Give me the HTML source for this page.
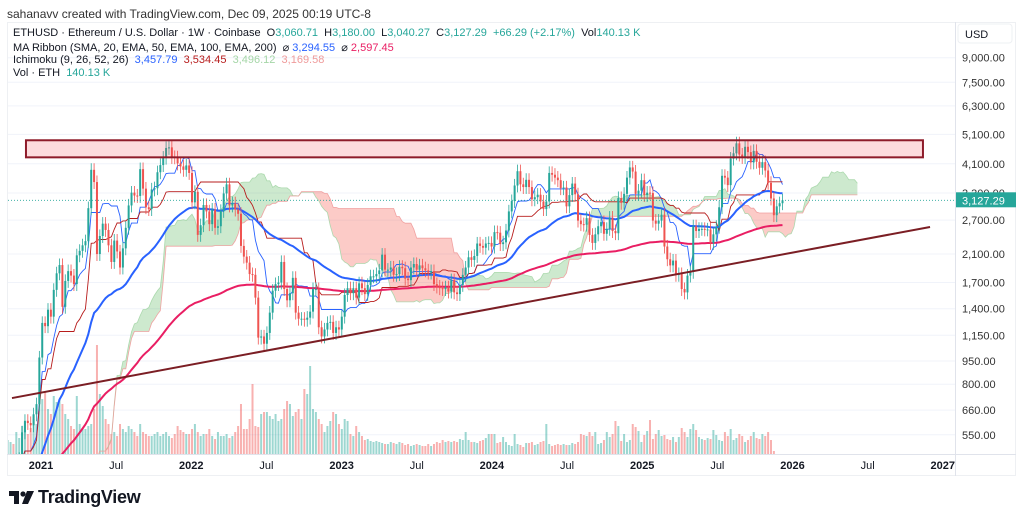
<!DOCTYPE html>
<html><head><meta charset="utf-8">
<style>
html,body{margin:0;padding:0;background:#fff;}
body{width:1024px;height:521px;overflow:hidden;position:relative;font-family:"Liberation Sans",sans-serif;color:#131722;}
.t{position:absolute;white-space:nowrap;}
</style></head>
<body>
<div class="t" style="left:7px;top:7px;font-size:12px;color:#333;">sahanavv created with TradingView.com, Dec 09, 2025 00:19 UTC-8</div>
<svg id="chart" width="1024" height="521" style="position:absolute;left:0;top:0" xmlns="http://www.w3.org/2000/svg">
  <defs><clipPath id="plot"><rect x="8" y="23" width="947" height="431"/></clipPath></defs>
  <rect x="7.5" y="22.5" width="1008" height="453" fill="none" stroke="#eef0f3"/>
  <line x1="955.5" y1="22" x2="955.5" y2="476" stroke="#e0e3eb"/>
  <line x1="7" y1="454.5" x2="1016" y2="454.5" stroke="#e0e3eb"/>
  <rect x="958" y="24" width="54" height="19" rx="3" fill="#fff" stroke="#eef0f3"/>
  <text x="965" y="38" font-size="11" fill="#131722" font-family="Liberation Sans, sans-serif">USD</text>
  <g id="grid"></g>
  <g clip-path="url(#plot)"><g id="vol"></g><g id="cloud"></g><g id="lines"></g><g id="candles"></g><g id="draw"></g></g>
  <g id="axes"></g>
</svg>
<div class="t" style="left:13px;top:27px;font-size:11px;">ETHUSD · Ethereum / U.S. Dollar · 1W · Coinbase&nbsp; O<span style="color:#26a69a">3,060.71</span>&nbsp; H<span style="color:#26a69a">3,180.00</span>&nbsp; L<span style="color:#26a69a">3,040.27</span>&nbsp; C<span style="color:#26a69a">3,127.29&nbsp; +66.29 (+2.17%)</span>&nbsp; Vol<span style="color:#26a69a">140.13 K</span></div>
<div class="t" style="left:13px;top:41px;font-size:11px;">MA Ribbon (SMA, 20, EMA, 50, EMA, 100, EMA, 200)&nbsp; ⌀ <span style="color:#2962ff">3,294.55</span>&nbsp; ⌀ <span style="color:#e91e63">2,597.45</span></div>
<div class="t" style="left:13px;top:54px;font-size:11px;">Ichimoku (9, 26, 52, 26)&nbsp; <span style="color:#2962ff">3,457.79</span>&nbsp; <span style="color:#b71c1c">3,534.45</span>&nbsp; <span style="color:#a5d6a7">3,496.12</span>&nbsp; <span style="color:#ef9a9a">3,169.58</span></div>
<div class="t" style="left:13px;top:67px;font-size:11px;">Vol · ETH&nbsp; <span style="color:#26a69a">140.13 K</span></div>
<svg width="26" height="14" style="position:absolute;left:9px;top:491px" viewBox="0 0 26 14">
  <path d="M0 0H10V13H5V5H0Z" fill="#131722"/><circle cx="14" cy="3" r="2.6" fill="#131722"/><path d="M18 0H25L19 13H13Z" fill="#131722"/>
</svg>
<div class="t" style="left:38px;top:487px;font-size:18px;font-weight:bold;letter-spacing:-0.3px;">TradingView</div>
<script>
const closes2020=[370,405,385,455,460,560,610,600,590,640,690];
const closes2021=[975,1260,1230,1390,1320,1610,1820,1935,1420,1720,1850,1790,1680,2080,2150,2240,2310,2950,3920,3580,2100,2400,2630,2510,2240,1980,2320,2140,1900,2190,2550,3010,3310,3240,3230,3940,3410,2970,2930,3390,3420,3850,4060,4290,4610,4630,4310,4300,4110,4020,3920,4050];
const closes2022=[3830,3080,3330,2420,2600,3020,2880,2620,2920,2550,2580,2890,3290,3520,3010,3060,2920,2830,2230,2060,1970,1810,1800,1520,1130,1140,1080,1170,1360,1600,1680,1700,1980,1620,1490,1570,1760,1360,1300,1300,1290,1310,1370,1620,1620,1220,1140,1200,1260,1270,1170,1220];
const closes2023=[1200,1320,1550,1630,1570,1630,1520,1690,1630,1560,1670,1780,1780,1810,1860,2090,1870,1870,1900,1800,1810,1910,1890,1750,1730,1900,1950,1870,1930,1890,1860,1830,1850,1680,1650,1630,1620,1640,1590,1730,1580,1560,1670,1800,1900,2050,2010,2070,2270,2230,2200,2270,2280];
const closes2024=[2220,2470,2460,2260,2290,2500,2880,3110,3490,3880,3520,3450,3640,3450,3150,3200,3260,3100,2930,3100,3830,3780,3700,3630,3420,3440,2990,3250,3540,3270,2690,2620,2610,2740,2420,2280,2430,2580,2660,2440,2530,2750,2490,2450,3180,3070,3280,3700,3990,3870,3280,3360];
const closes2025=[3630,3250,3310,3300,2690,2630,2690,2810,2220,2020,1930,2000,1800,1810,1620,1580,1790,1840,2580,2490,2530,2530,2520,2520,2280,2430,2570,2970,3750,3700,3500,4260,4430,4770,4390,4310,4650,4470,4140,4510,4160,3980,4150,3900,3560,3170,2800,2990,3060,3127.29];
const volumes=[14,12,10,22,16,28,32,20,26,35,30,
60,55,62,45,40,58,52,55,50,40,35,28,25,58,30,26,25,28,30,45,109,60,48,35,30,20,22,18,30,25,22,28,25,22,18,30,22,20,18,18,20,22,18,20,22,18,16,20,28,24,22,20,
20,25,30,22,18,20,20,25,18,15,22,18,18,20,16,18,22,28,50,25,25,35,70,28,27,40,42,42,38,35,40,33,35,45,53,50,38,42,45,35,65,60,88,45,42,35,30,22,28,
33,42,40,30,25,35,33,20,18,28,22,18,14,15,13,12,13,12,11,10,10,12,11,10,12,11,9,10,8,9,10,9,8,8,10,8,10,12,11,14,12,13,12,13,12,15,14,22,14,12,12,11,13,
14,16,20,20,20,11,12,17,12,9,8,20,10,9,7,11,11,12,9,10,12,13,30,10,8,9,10,9,10,9,9,11,10,12,20,19,18,22,18,22,10,11,14,22,17,20,33,28,13,20,12,14,
30,27,23,12,19,23,34,15,20,24,18,19,15,14,17,12,17,26,22,17,25,30,24,17,15,14,16,15,24,19,14,13,22,18,25,14,16,20,18,12,14,18,22,16,15,20,18,22,14,3];
const priceTicks=[9000,7500,6300,5100,4100,3300,2700,2100,1700,1400,1150,950,800,660,550];
const timeTicks=[["2021",2021.0,true],["Jul",2021.5,false],["2022",2022.0,true],["Jul",2022.5,false],["2023",2023.0,true],["Jul",2023.5,false],["2024",2024.0,true],["Jul",2024.5,false],["2025",2025.0,true],["Jul",2025.5,false],["2026",2026.0,true],["Jul",2026.5,false],["2027",2027.0,true]];
const resistanceZone=[4300,4880,2020.9,2026.868];
const trendLine=[[2020.807,722],[2026.915,2566]];
const lastPrice=3127.29;

const NS="http://www.w3.org/2000/svg";
const closes=[].concat(closes2020,closes2021,closes2022,closes2023,closes2024,closes2025);
const firstDayOffset=-81;
function yearOf(i){return 2021+(firstDayOffset+i*7)/365.25;}
function xs(yr){return 41+(yr-2021)*150.3;}
function xi(i){return xs(yearOf(i));}
function ys(p){return 57.7+(Math.log(9000)-Math.log(p))*134.9;}
function mk(tag,attrs,parent){const e=document.createElementNS(NS,tag);for(const k in attrs)e.setAttribute(k,attrs[k]);parent.appendChild(e);return e;}
const G=id=>document.getElementById(id);

priceTicks.forEach(p=>{
  const l=mk('line',{x1:8,x2:955,y1:ys(p),y2:ys(p),stroke:'#f0f3fa'},G('grid'));
  
  
  const t=mk('text',{x:962,y:ys(p)+4,'font-size':11,fill:'#333','font-family':'Liberation Sans, sans-serif'},G('axes'));
  t.textContent=p.toLocaleString('en-US',{minimumFractionDigits:2});
  
  
});
timeTicks.forEach(tk=>{
  const t=mk('text',{x:xs(tk[1]),y:469,'font-size':11,'text-anchor':'middle',fill:'#131722','font-weight':tk[2]?'bold':'normal','font-family':'Liberation Sans, sans-serif'},G('axes'));
  t.textContent=tk[0];
  
  
});

const opens=closes.map((c,i)=>i?closes[i-1]:c*0.95);
const highs=closes.map((c,i)=>Math.max(c,opens[i])*1.05);
const lows=closes.map((c,i)=>Math.min(c,opens[i])*0.95);

const n=Math.min(volumes.length,closes.length);
for(let i=0;i<n;i++){
  const up=closes[i]>=opens[i];
  const h=volumes[i];
  const r=mk('rect',{x:xi(i)-1,y:454-h,width:2,height:h,fill:up?'rgba(38,166,154,0.45)':'rgba(239,83,80,0.45)'},G('vol'));
  
  
}

function ema(arr,len){const a=2/(len+1);let v=arr[0];return arr.map(c=>(v=v+a*(c-v)));}
function hl(i,len){let h=-1e9,l=1e9;for(let k=Math.max(0,i-len+1);k<=i;k++){h=Math.max(h,highs[k]);l=Math.min(l,lows[k]);}return (h+l)/2;}
const ema50=ema(closes,50), ema200=ema(closes,200);
const tenkan=closes.map((c,i)=>hl(i,9)), kijun=closes.map((c,i)=>hl(i,26));
const spanA=tenkan.map((t,i)=>(t+kijun[i])/2), spanB=closes.map((c,i)=>hl(i,52));

const sh=26;
let runStart=0;
function flushRun(s,e){
  if(e<=s) return;
  const green=spanA[s]>=spanB[s];
  const pts=[];
  for(let k=s;k<=e;k++) pts.push(xi(k+sh).toFixed(1)+','+ys(spanA[k]).toFixed(1));
  for(let k=e;k>=s;k--) pts.push(xi(k+sh).toFixed(1)+','+ys(spanB[k]).toFixed(1));
  const p=mk('polygon',{points:pts.join(' '),fill:green?'rgba(76,175,80,0.28)':'rgba(244,67,54,0.28)'},G('cloud'));
  
  
}
for(let i=1;i<closes.length;i++){
  const prev=spanA[i-1]>=spanB[i-1], cur=spanA[i]>=spanB[i];
  if(prev!==cur){flushRun(runStart,i);runStart=i;}
}
flushRun(runStart,closes.length-1);

function path(vals,shift,color,w,name,grp){
  const d=vals.map((v,i)=>(i?'L':'M')+xi(i+shift).toFixed(1)+','+ys(v).toFixed(1)).join('');
  const e=mk('path',{d:d,fill:'none',stroke:color,'stroke-width':w},G(grp));
  
  
}
path(spanA,sh,'rgba(165,214,167,0.9)',0.8,'senkou-span-a','cloud');
path(spanB,sh,'rgba(239,154,154,0.9)',0.8,'senkou-span-b','cloud');
path(tenkan,0,'#2962ff',0.9,'tenkan-line','lines');
path(kijun,0,'#b71c1c',0.9,'kijun-line','lines');
path(ema50,0,'#2962ff',2,'ema-50-line','lines');
path(ema200,0,'#e91e63',2,'ema-200-line','lines');

for(let i=0;i<closes.length;i++){
  const up=closes[i]>=opens[i],col=up?'#26a69a':'#ef5350',x=xi(i);
  const w=mk('line',{x1:x,x2:x,y1:ys(highs[i]),y2:ys(lows[i]),stroke:col,'stroke-width':0.8},G('candles'));
  
  
  const top=ys(Math.max(opens[i],closes[i])),bot=ys(Math.min(opens[i],closes[i]));
  const b=mk('rect',{x:x-1,y:top,width:2,height:Math.max(1,bot-top),fill:col},G('candles'));
  
  
}

const rz=mk('rect',{x:xs(resistanceZone[2]),y:ys(resistanceZone[1]),width:xs(resistanceZone[3])-xs(resistanceZone[2]),height:ys(resistanceZone[0])-ys(resistanceZone[1]),fill:'rgba(242,54,69,0.18)',stroke:'#8e1b2a','stroke-width':2},G('draw'));


const tl=mk('line',{x1:xs(trendLine[0][0]),y1:ys(trendLine[0][1]),x2:xs(trendLine[1][0]),y2:ys(trendLine[1][1]),stroke:'#7b1e24','stroke-width':2},G('draw'));


const lp=mk('line',{x1:8,x2:955,y1:ys(lastPrice),y2:ys(lastPrice),stroke:'#26a69a','stroke-width':0.8,'stroke-dasharray':'1 2'},G('draw'));


const lb=mk('rect',{x:956,y:ys(lastPrice)-8,width:60,height:15,fill:'#26a69a'},G('axes'));


const lt=mk('text',{x:962,y:ys(lastPrice)+4,'font-size':11,fill:'#fff','font-family':'Liberation Sans, sans-serif'},G('axes'));
lt.textContent=lastPrice.toLocaleString('en-US',{minimumFractionDigits:2});


</script>
</body></html>
